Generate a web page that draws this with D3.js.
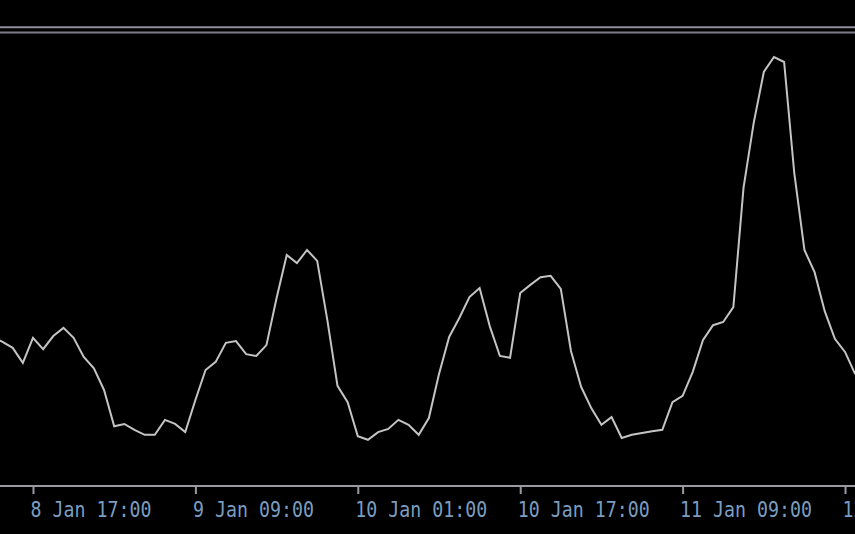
<!DOCTYPE html>
<html>
<head>
<meta charset="utf-8">
<script src="https://cdn.jsdelivr.net/npm/d3@7/dist/d3.min.js"></script>
<style>
  html, body { margin: 0; padding: 0; background: #000; }
  svg { display: block; }
</style>
</head>
<body>
<svg id="chart" width="855" height="534"></svg>
<script>
// ---- data (hourly values, first point at 8 Jan 13:00) ----
const startTime = "2024-01-08T13:00:00Z";
const values = [
  32.9, 31.8, 30.5, 27.2, 32.7, 30.2, 33.1, 34.9, 32.7, 28.5,
  26.0, 21.2, 13.2, 13.7, 12.4, 11.3, 11.3, 14.6, 13.7, 11.9,
  19.0, 25.6, 27.4, 31.6, 32.0, 29.1, 28.7, 31.1, 41.5, 51.0,
  49.2, 52.1, 49.7, 36.6, 22.1, 18.5, 11.0, 10.2, 11.9, 12.6,
  14.6, 13.5, 11.3, 15.0, 24.7, 32.9, 37.1, 41.7, 43.7, 35.3,
  28.7, 28.3, 42.6, 44.4, 46.1, 46.4, 43.5, 29.8, 21.9, 17.2,
  13.5, 15.2, 10.6, 11.3, 11.7, 12.1, 12.4, 18.5, 19.9, 25.2,
  32.2, 35.5, 36.2, 39.5, 65.8, 80.1, 91.4, 94.7, 93.6, 69.1,
  52.1, 47.2, 38.6, 32.5, 29.6, 24.7
];
const tickTimes = [
  "2024-01-08T17:00:00Z", "2024-01-09T09:00:00Z", "2024-01-10T01:00:00Z",
  "2024-01-10T17:00:00Z", "2024-01-11T09:00:00Z", "2024-01-12T01:00:00Z"
];
const tickLabels = [
  "8 Jan 17:00", "9 Jan 09:00", "10 Jan 01:00",
  "10 Jan 17:00", "11 Jan 09:00", "12 Jan 01:00"
];
const viewStart = "2024-01-08T13:45:00Z";
const viewEnd = "2024-01-12T01:59:00Z";

// ---- build ----
const W = 855, H = 534;
const t0 = new Date(startTime).getTime();
const data = values.map((v, i) => ({ t: new Date(t0 + i * 3600e3), v }));

const svg = d3.select("#chart");
svg.append("rect").attr("width", W).attr("height", H).attr("fill", "#000");

const x = d3.scaleUtc()
  .domain([new Date(viewStart), new Date(viewEnd)])
  .range([0, W]);
const y = d3.scaleLinear().domain([0, 100]).range([486, 33]);

// top double border
svg.append("line").attr("x1", 0).attr("x2", W).attr("y1", 27.3).attr("y2", 27.3)
  .attr("stroke", "#8e8e98").attr("stroke-width", 2);
svg.append("line").attr("x1", 0).attr("x2", W).attr("y1", 32.5).attr("y2", 32.5)
  .attr("stroke", "#7c7c88").attr("stroke-width", 2);

// plot area clip
svg.append("clipPath").attr("id", "clip")
  .append("rect").attr("x", 0).attr("y", 34).attr("width", W).attr("height", 451);

const line = d3.line().x(d => x(d.t)).y(d => y(d.v));
svg.append("path")
  .datum(data)
  .attr("clip-path", "url(#clip)")
  .attr("fill", "none")
  .attr("stroke", "#c4c4c4")
  .attr("stroke-width", 2)
  .attr("stroke-linejoin", "miter")
  .attr("d", line);

// bottom axis
const axis = d3.axisBottom(x)
  .tickValues(tickTimes.map(s => new Date(s)))
  .tickFormat((d, i) => tickLabels[i])
  .tickSize(8)
  .tickSizeOuter(0);

const gAxis = svg.append("g").attr("transform", "translate(0,486)").call(axis);
gAxis.select(".domain").attr("stroke", "#9a9aa2").attr("stroke-width", 2)
  .attr("d", `M0,0H${W}`);
gAxis.selectAll(".tick line").attr("stroke", "#9a9aa2").attr("stroke-width", 2);
gAxis.selectAll(".tick text")
  .attr("fill", "#7b9dc0")
  .attr("font-family", "'DejaVu Sans Mono', monospace")
  .attr("font-size", 22)
  .attr("text-anchor", "start")
  .attr("x", -3)
  .attr("y", 31)
  .attr("dy", 0)
  .attr("textLength", function() { return this.textContent.length * 11; })
  .attr("lengthAdjust", "spacingAndGlyphs");
</script>
</body>
</html>
